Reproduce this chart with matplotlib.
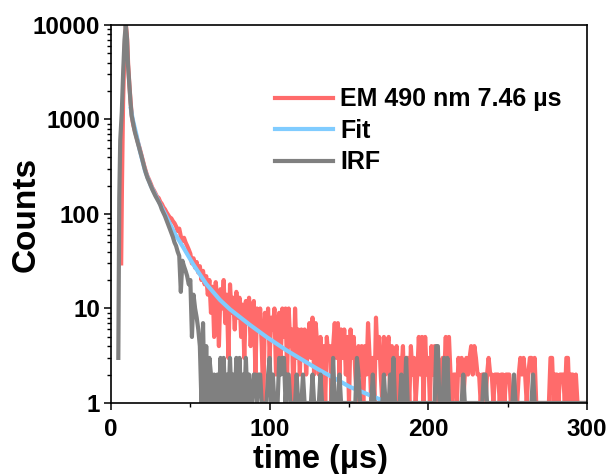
import numpy as np
import matplotlib
matplotlib.use("Agg")
import matplotlib.pyplot as plt
from matplotlib.ticker import FixedLocator, LogLocator, NullFormatter, FuncFormatter

# ---- data ----
# emission decay (counts per channel, 1 us channels after the peak)
em_head_t = [6.4, 6.9, 7.6, 8.4, 9.4, 10.2, 10.8, 11.6, 12.4, 13.2, 14.0]
em_head = [30, 200, 1500, 5000, 10000, 7000, 3800, 2300, 1500, 1050, 880]
em_tail = [
    760, 650, 570, 500, 430, 370, 320, 280, 250, 230, 210, 190, 178, 165, 152,   # 15-29
    148, 135, 128, 118, 112, 104, 98, 92, 90, 84,                                # 30-39
    80, 74, 66, 70, 58, 52, 56, 50, 46, 42,                                      # 40-49
    38, 30, 34, 27, 31, 24, 28, 20, 25, 18,                                      # 50-59
    22, 14, 20, 9, 17, 5, 19, 12, 4, 16, 10, 20, 7, 14, 3, 18, 9, 13, 6, 15,     # 60-79
    8, 13, 5, 11, 3, 12, 7, 13, 4, 9, 12, 2, 10,                                 # 80-92
    6, 10, 4, 1, 9, 5, 10, 3, 8, 6, 10, 2, 7, 9, 3, 10, 5, 10, 2, 10,
    4, 6, 1, 10, 3, 6, 2,                                                        # 93-119
    6, 3, 6, 2, 4,                                                               # 120-124
    7, 3, 8, 2, 7, 4, 2,                                                         # 125-131
    5, 2, 4, 1, 5, 3, 4, 1, 4,                                                   # 132-140
    7, 3, 7, 2, 6,                                                               # 141-145
    3, 6, 2, 5, 1, 6, 3, 5, 2,                                                   # 146-154
    1, 4, 2, 4, 1, 4, 2,                                                         # 155-161
    7, 3, 1, 3, 1,                                                               # 162-166
    8, 3, 5,                                                                     # 167-169
    2, 1, 5, 2, 4, 5, 1, 4, 2, 3,                                                # 170-179
    4, 1, 3, 2, 4, 1, 3, 3, 1, 4, 2, 3, 1, 2,                                    # 180-193
    5, 2, 5, 1, 5, 2, 3, 1, 4, 2, 4, 1, 3, 2, 1, 3, 2, 5, 1, 5,                  # 194-213
    2, 1, 2, 2, 1, 3, 2, 3, 1,                                                   # 214-222
    2, 3, 2, 3, 4, 2, 4, 3,                                                      # 223-230
    2, 2, 1, 2, 2, 1, 2, 3, 2, 2, 1, 2, 2, 2,                                    # 231-244
    1, 2, 2, 1, 2, 2, 2, 1, 1, 1, 1, 1, 2, 3, 2, 3, 2, 1, 2, 3,
    3, 2, 3, 1, 1, 1, 1, 1, 1, 1, 1, 1,                                          # 245-276
    3, 3, 1, 2, 2, 1, 2, 2, 2, 1, 3, 3, 1, 2, 2, 1, 2, 1, 1, 1, 1, 1, 1, 1,      # 277-300
]

# instrument response
irf_head_t = [4.6, 5.2, 5.8, 6.8, 7.6, 8.5, 9.3, 10.0, 10.7, 11.5, 12.3, 13.0, 14.0]
irf_head = [3, 150, 600, 1200, 3000, 7000, 10000, 7500, 3800, 2400, 1500, 1100, 900]
irf_tail = [
    740, 640, 555, 485, 420, 360, 310, 270, 240, 220, 200, 182, 168, 155, 145,   # 15-29
    135, 125, 112, 103, 95, 86, 78, 70, 63, 57, 50, 46, 40, 36, 15, 32, 28, 25,
    22, 18, 20, 5, 14, 10, 8, 6, 4, 1,                                           # 30-57
    7, 1, 4, 1, 3, 2, 1, 2, 1, 2, 1, 3, 1, 3, 1, 2, 1, 3, 1, 2,
    1, 3, 1, 3, 1, 2, 1, 3, 1, 2, 1,                                             # 58-88
    1, 2, 2, 1, 2, 2, 1, 1, 1, 1, 2, 3, 1, 2, 1, 1, 1, 3, 2, 3,
    3, 1, 2, 2, 1, 1, 1, 1, 2, 1, 1, 1, 2, 1, 1, 1, 1, 1, 2, 1,                  # 89-128
    1, 1, 1, 2, 1, 1, 1, 1, 1, 1, 1, 3, 1, 1, 1, 2, 1, 1, 1, 1,                  # 129-148
    1, 1, 1, 1, 1, 1, 3, 2, 1, 1, 1, 1, 1, 1, 1, 1, 2, 1, 1, 1,                  # 149-168
    1, 1, 1, 2, 1, 1, 1, 2, 1, 3, 1, 1, 1, 1, 2, 1, 1, 3, 1, 1,                  # 169-188
    1, 1, 1, 1, 1, 1, 1, 1, 1, 1, 1, 1, 1, 1, 1, 1, 4, 4, 1, 1,                  # 189-208
    1, 3, 1, 3, 1, 1, 1, 1, 1, 1, 1, 1, 1, 2, 1, 1, 1, 1, 1, 1,                  # 209-228
    1, 1, 1, 1, 1, 1, 2, 2, 1, 1, 1, 1, 1, 1, 1, 1, 1, 1, 1, 1,                  # 229-248
    1, 1, 1, 1, 1, 2, 1, 1, 1, 1, 1, 1, 1, 1, 1, 1, 1, 2, 1, 1,                  # 249-268
    1, 1, 1, 1, 1, 1, 1, 1, 1, 1, 1, 1, 1, 1, 1, 1, 1, 1, 1, 1,                  # 269-288
    1, 1, 1, 1, 1, 1, 1, 1, 1, 1, 1, 1,                                          # 289-300
]

# fitted curve
fit_t = [12.5, 13.7, 16.0, 18.3, 21.4, 25.0, 29.6, 35.0, 40.0, 46.0, 51.7, 60.0,
         68.7, 75.0, 81.3, 87.6, 98.0, 110.7, 130.0, 150.6, 172.0]
fit_counts = [1300, 1000, 690, 457, 288, 200, 141, 93, 63, 43, 29.5, 18.2,
              12.3, 9.8, 8.1, 6.7, 5.0, 3.6, 2.3, 1.48, 1.05]

em_t = em_head_t + list(15 + np.arange(len(em_tail)))
em = em_head + em_tail
irf_t = irf_head_t + list(15 + np.arange(len(irf_tail)))
irf = irf_head + irf_tail

plt.rcParams['font.family'] = ['Liberation Sans', 'DejaVu Sans']
plt.rcParams['font.weight'] = 'bold'

fig = plt.figure(figsize=(6.11, 4.74), dpi=100)
ax = fig.add_axes([0.1817, 0.1498, 0.7790, 0.7975])

ax.plot(em_t, em, color='#ff6b6b', lw=3, label='EM 490 nm 7.46 µs')
ax.plot(fit_t, fit_counts, color='#80ccff', lw=3, label='Fit')
ax.plot(irf_t, irf, color='#808080', lw=3, label='IRF')

ax.set_yscale('log')
ax.set_xlim(0, 300)
ax.set_ylim(1, 10000)
ax.set_xticks([0, 100, 200, 300])
ax.xaxis.set_minor_locator(FixedLocator([50, 150, 250]))
ax.yaxis.set_major_locator(FixedLocator([1, 10, 100, 1000, 10000]))
ax.yaxis.set_minor_locator(LogLocator(base=10, subs=np.arange(2, 10)))
ax.yaxis.set_minor_formatter(NullFormatter())
ax.yaxis.set_major_formatter(FuncFormatter(lambda v, p: f"{v:g}"))

ax.tick_params(which='both', direction='out', top=False, right=False, width=1.1)
ax.tick_params(which='major', length=5, labelsize=17.5)
ax.tick_params(axis='x', which='major', pad=6)
ax.tick_params(axis='y', which='major', pad=3)
ax.tick_params(which='minor', length=3, width=1)
for s in ax.spines.values():
    s.set_linewidth(1.2)

ax.set_xlabel('time (µs)', fontsize=23.5, fontweight='bold')
ax.xaxis.set_label_coords(0.441, -0.108)
ax.set_ylabel('Counts', fontsize=24, fontweight='bold')
ax.yaxis.set_label_coords(-0.145, 0.5)

ax.legend(loc='upper left', bbox_to_anchor=(0.345, 0.835), frameon=False,
          fontsize=18, handlelength=2.3, handletextpad=0.3, labelspacing=0.3,
          borderpad=0, borderaxespad=0)

fig.savefig('out.png', dpi=100)
